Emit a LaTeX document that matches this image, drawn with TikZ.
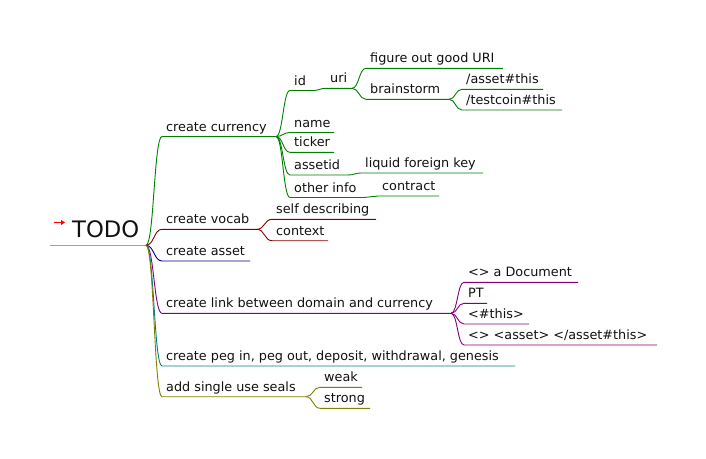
\documentclass[tikz,border=0pt]{standalone}
\usepackage{fontspec}
\setmainfont{DejaVu Sans}
\usetikzlibrary{calc,arrows.meta}
\definecolor{mmgreen}{RGB}{0,128,0}
\definecolor{mmred}{RGB}{128,0,0}
\definecolor{mmnavy}{RGB}{0,0,128}
\definecolor{mmpurple}{RGB}{128,0,128}
\definecolor{mmteal}{RGB}{0,128,128}
\definecolor{mmolive}{RGB}{128,128,0}
\definecolor{mmcyan}{RGB}{0,230,230}
\definecolor{mmtextcol}{RGB}{17,17,17}
\tikzset{
  mmtext/.style={inner sep=0pt, text=mmtextcol, font=\fontsize{12.8pt}{15pt}\selectfont},
  mmedge/.style={line width=0.9pt},
}
% #1 name, #2 parent, #3 text x, #4 underline y, #5 end x, #6 colour, #7 text
\newcommand{\mmkid}[7]{%
  \coordinate (#1-s) at (#3-4,#4);
  \coordinate (#1-e) at (#5,#4);
  \node[mmtext, anchor=base west] (#1) at (#3,#4-5.5) {#7};
  \draw[mmedge,#6] let \p1=(#2-e), \p2=(#1-s) in
     (#2-e) .. controls (\x1/2+\x2/2,\y1) and (\x1/2+\x2/2,\y2) .. (#1-s) -- (#1-e);
}
\begin{document}
\begin{tikzpicture}[x=1pt,y=-1pt]
\useasboundingbox (0,0) rectangle (706,458);
% root
\coordinate (root-s) at (50,245.3);
\coordinate (root-e) at (146,245.3);
\node[inner sep=0pt, anchor=base west, text=mmtextcol, font=\fontsize{22.7pt}{26pt}\selectfont] (root) at (72,237) {TODO};
\draw[mmcyan, line width=0.9pt] (root-s) -- (root-e);
\draw[red, line width=1.6pt, -{Triangle[length=4pt,width=5pt]}] (54,222.5) -- (65,222.5);
% level 1
\mmkid{cur}{root}{166}{136.5}{276}{mmgreen}{create currency}
\mmkid{voc}{root}{166}{229.3}{257}{mmred}{create vocab}
\mmkid{ast}{root}{166}{261}{250}{mmnavy}{create asset}
\mmkid{lnk}{root}{166}{313.3}{451}{mmpurple}{create link between domain and currency}
\mmkid{peg}{root}{166}{366}{515}{mmteal}{create peg in, peg out, deposit, withdrawal, genesis}
\mmkid{sea}{root}{166}{396.7}{306}{mmolive}{add single use seals}
% currency
\mmkid{id}{cur}{294}{90.5}{313}{mmgreen}{id}
\mmkid{nam}{cur}{294}{132.5}{334}{mmgreen}{name}
\mmkid{tic}{cur}{294}{152.3}{334}{mmgreen}{ticker}
\mmkid{aid}{cur}{294}{175}{348}{mmgreen}{assetid}
\mmkid{oth}{cur}{294}{197.5}{364}{mmgreen}{other info}
\mmkid{uri}{id}{330}{88.3}{352}{mmgreen}{uri}
\mmkid{fig}{uri}{370}{68.3}{503}{mmgreen}{figure out good URI}
\mmkid{bra}{uri}{370}{99.3}{449}{mmgreen}{brainstorm}
\mmkid{ass}{bra}{466}{89.3}{543}{mmgreen}{/asset\#this}
\mmkid{tes}{bra}{466}{110}{562}{mmgreen}{/testcoin\#this}
\mmkid{liq}{aid}{365}{173}{483}{mmgreen}{liquid foreign key}
\mmkid{con}{oth}{382}{196}{439}{mmgreen}{contract}
% vocab
\mmkid{sel}{voc}{276}{219.3}{376}{mmred}{self describing}
\mmkid{ctx}{voc}{276}{240.7}{328}{mmred}{context}
% link
\mmkid{doc}{lnk}{468}{282.3}{578}{mmpurple}{<> a Document}
\mmkid{pt}{lnk}{468}{303.3}{487}{mmpurple}{PT}
\mmkid{thi}{lnk}{468}{324}{529}{mmpurple}{<\#this>}
\mmkid{aat}{lnk}{468}{345}{657}{mmpurple}{<> <asset> </asset\#this>}
% seals
\mmkid{wea}{sea}{324}{387.3}{362}{mmolive}{weak}
\mmkid{str}{sea}{324}{408.3}{370}{mmolive}{strong}
\end{tikzpicture}
\end{document}
